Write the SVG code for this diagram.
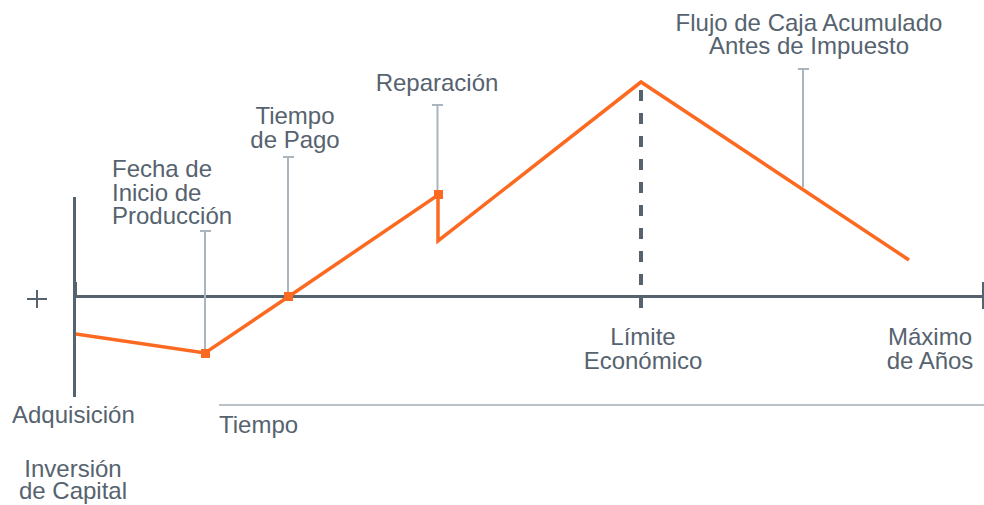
<svg xmlns="http://www.w3.org/2000/svg" width="984" height="505" viewBox="0 0 984 505">
<style>
.t{font-family:"Liberation Sans",Arial,sans-serif;font-size:24px;fill:#56636f}
.m{text-anchor:middle}
.ax{stroke:#56636f;stroke-width:3;fill:none}
.ld{stroke:#aab5be;stroke-width:2;fill:none}
.cf{stroke:#fc6a21;stroke-width:3.5;fill:none;stroke-linejoin:miter}
.mk{fill:#fc6a21}
</style>
<rect width="984" height="505" fill="#ffffff"/>
<g id="axes">
<line class="ax" x1="74.5" y1="197" x2="74.5" y2="397"/>
<line class="ax" x1="74" y1="296.5" x2="984" y2="296.5"/>
<line x1="75" y1="282" x2="75" y2="296" stroke="#56636f" stroke-width="4"/>
<line x1="983" y1="282" x2="983" y2="309" stroke="#56636f" stroke-width="2"/>
<path d="M27 299H47M37 290V308" stroke="#56636f" stroke-width="2"/>
<line x1="641" y1="90" x2="641" y2="308" stroke="#56636f" stroke-width="4" stroke-dasharray="11 12"/>
<line x1="219" y1="405" x2="984" y2="405" stroke="#b8c1c8" stroke-width="2"/>
</g>
<g id="connectors">
<path class="ld" d="M205 231V353M200 231H211"/>
<path class="ld" d="M288 157V297M283 157H294"/>
<path class="ld" d="M437.5 105V195M432 105H443"/>
<path class="ld" d="M803 69V187M798 69H809"/>
</g>
<g id="cashflow">
<polyline class="cf" points="76,334 205,353 288,297 438,195 438,241 641,82 909,260"/>
<rect class="mk" x="201" y="349" width="9" height="9"/>
<rect class="mk" x="284" y="292" width="9" height="9"/>
<rect class="mk" x="434" y="190" width="9" height="9"/>
</g>
<g id="label-fecha"><text class="t" x="112" y="177">Fecha de<tspan x="112" y="200.5">Inicio de</tspan><tspan x="112" y="224">Producción</tspan></text></g>
<g id="label-pago"><text class="t m" x="295" y="124">Tiempo<tspan x="295" y="147.5">de Pago</tspan></text></g>
<g id="label-reparacion"><text class="t m" x="437" y="91">Reparación</text></g>
<g id="label-flujo"><text class="t m" x="809" y="31">Flujo de Caja Acumulado<tspan x="809" y="54">Antes de Impuesto</tspan></text></g>
<g id="label-limite"><text class="t m" x="643" y="345">Límite<tspan x="643" y="368.5">Económico</tspan></text></g>
<g id="label-maximo"><text class="t m" x="930" y="345">Máximo<tspan x="930" y="368.5">de Años</tspan></text></g>
<g id="label-adquisicion"><text class="t" x="12" y="423">Adquisición</text></g>
<g id="label-tiempo"><text class="t" x="219" y="433">Tiempo</text></g>
<g id="label-inversion"><text class="t m" x="73" y="477">Inversión<tspan x="73" y="499">de Capital</tspan></text></g>
</svg>
